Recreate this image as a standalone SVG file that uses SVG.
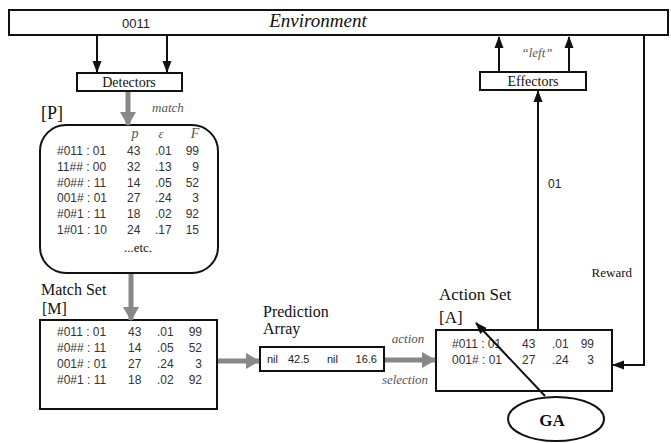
<svg xmlns="http://www.w3.org/2000/svg" width="671" height="443" viewBox="0 0 671 443">
<defs>
<style>
.box{fill:#fff;stroke:#111;stroke-width:2}
.ln{fill:none;stroke:#111;stroke-width:2}
.gl{fill:none;stroke:#888;stroke-width:5}
.serif{font-family:"Liberation Serif","Times New Roman",serif;fill:#111}
.sans{font-family:"Liberation Sans",Arial,sans-serif;fill:#222}
.it{font-family:"Liberation Serif","Times New Roman",serif;font-style:italic;fill:#555}
.tb{font-family:"Liberation Sans",Arial,sans-serif;font-size:12px;fill:#333}
</style>
<marker id="ah" markerUnits="userSpaceOnUse" markerWidth="12" markerHeight="12" viewBox="0 0 12 12" refX="11" refY="6" orient="auto">
<path d="M0,1.5 L12,6 L0,10.5 Z" fill="#111"/>
</marker>
<marker id="gh" markerUnits="userSpaceOnUse" markerWidth="14" markerHeight="18" viewBox="0 0 14 18" refX="13" refY="9" orient="auto">
<path d="M0,1 L14,9 L0,17 Z" fill="#888"/>
</marker>
</defs>
<rect width="671" height="443" fill="#fff"/>

<g id="environment">
<rect class="box" x="9" y="10" width="659" height="25" stroke-width="2.5"/>
<text class="sans" x="136" y="28" font-size="13" text-anchor="middle">0011</text>
<text class="serif" x="318" y="27" font-size="19" font-style="italic" text-anchor="middle" fill="#333">Environment</text>
</g>

<g id="detectors">
<rect class="box" x="77" y="73" width="105" height="18"/>
<text class="serif" x="129" y="87" font-size="14" text-anchor="middle" fill="#333">Detectors</text>
</g>

<g id="effectors">
<rect class="box" x="480" y="72" width="106" height="18"/>
<text class="serif" x="533" y="86" font-size="14" text-anchor="middle" fill="#333">Effectors</text>
</g>

<g id="population">
<text class="serif" x="41" y="119" font-size="18">[P]</text>
<rect class="box" x="40" y="125" width="178" height="148" rx="26" ry="26"/>
<text class="it" x="135" y="138" font-size="14" text-anchor="middle">p</text>
<text class="it" x="161" y="138" font-size="13" text-anchor="middle">ε</text>
<text class="it" x="195" y="138" font-size="14" text-anchor="middle">F</text>
<g class="tb">
<text x="57" y="155">#011 : 01</text><text x="127" y="155">43</text><text x="155" y="155">.01</text><text x="199" y="155" text-anchor="end">99</text>
<text x="57" y="171">11## : 00</text><text x="127" y="171">32</text><text x="155" y="171">.13</text><text x="199" y="171" text-anchor="end">9</text>
<text x="57" y="187">#0## : 11</text><text x="127" y="187">14</text><text x="155" y="187">.05</text><text x="199" y="187" text-anchor="end">52</text>
<text x="57" y="202">001# : 01</text><text x="127" y="202">27</text><text x="155" y="202">.24</text><text x="199" y="202" text-anchor="end">3</text>
<text x="57" y="218">#0#1 : 11</text><text x="127" y="218">18</text><text x="155" y="218">.02</text><text x="199" y="218" text-anchor="end">92</text>
<text x="57" y="234">1#01 : 10</text><text x="127" y="234">24</text><text x="155" y="234">.17</text><text x="199" y="234" text-anchor="end">15</text>
</g>
<text class="serif" x="138" y="252" font-size="13" text-anchor="middle" fill="#333">...etc.</text>
</g>

<g id="matchset">
<text class="serif" x="41" y="295" font-size="16" fill="#333">Match Set</text>
<text class="serif" x="42" y="314" font-size="16" fill="#333">[M]</text>
<rect class="box" x="40" y="320" width="177" height="89"/>
<g class="tb">
<text x="57" y="336">#011 : 01</text><text x="128" y="336">43</text><text x="157" y="336">.01</text><text x="202" y="336" text-anchor="end">99</text>
<text x="57" y="352">#0## : 11</text><text x="128" y="352">14</text><text x="157" y="352">.05</text><text x="202" y="352" text-anchor="end">52</text>
<text x="57" y="368">001# : 01</text><text x="128" y="368">27</text><text x="157" y="368">.24</text><text x="202" y="368" text-anchor="end">3</text>
<text x="57" y="384">#0#1 : 11</text><text x="128" y="384">18</text><text x="157" y="384">.02</text><text x="202" y="384" text-anchor="end">92</text>
</g>
</g>

<g id="prediction">
<text class="serif" x="263" y="317" font-size="16" fill="#333">Prediction</text>
<text class="serif" x="263" y="334" font-size="16" fill="#333">Array</text>
<rect class="box" x="260" y="347" width="124" height="24"/>
<g class="sans" font-size="11" fill="#333">
<text x="267" y="363">nil</text><text x="288" y="363">42.5</text><text x="327" y="363">nil</text><text x="377" y="363" text-anchor="end">16.6</text>
</g>
</g>

<g id="actionset">
<text class="serif" x="439" y="300" font-size="17" fill="#333">Action Set</text>
<text class="serif" x="439" y="323" font-size="17" fill="#333">[A]</text>
<rect class="box" x="436" y="330" width="176" height="61"/>
<g class="tb">
<text x="452" y="348">#011 : 01</text><text x="522" y="348">43</text><text x="552" y="348">.01</text><text x="594" y="348" text-anchor="end">99</text>
<text x="452" y="364">001# : 01</text><text x="522" y="364">27</text><text x="552" y="364">.24</text><text x="594" y="364" text-anchor="end">3</text>
</g>
</g>

<g id="ga">
<ellipse cx="556" cy="419" rx="48" ry="22" fill="#fff" stroke="#111" stroke-width="2"/>
<text class="serif" x="552" y="426" font-size="17" font-weight="bold" text-anchor="middle">GA</text>
</g>

<g id="connectors">
<line class="ln" x1="97" y1="36" x2="97" y2="72" marker-end="url(#ah)"/>
<line class="ln" x1="167" y1="36" x2="167" y2="72" marker-end="url(#ah)"/>
<line class="ln" x1="499" y1="72" x2="499" y2="37" marker-end="url(#ah)"/>
<line class="ln" x1="569" y1="72" x2="569" y2="37" marker-end="url(#ah)"/>
<line class="ln" x1="538" y1="330" x2="538" y2="91" marker-end="url(#ah)"/>
<polyline class="ln" points="644,36 644,365 613,365" marker-end="url(#ah)"/>
<line class="ln" x1="545" y1="396" x2="476" y2="323" marker-end="url(#ah)"/>
<line class="gl" x1="128" y1="92" x2="128" y2="125" marker-end="url(#gh)"/>
<line class="gl" x1="131" y1="274" x2="131" y2="320" marker-end="url(#gh)"/>
<line class="gl" x1="218" y1="361" x2="259" y2="361" marker-end="url(#gh)"/>
<line class="gl" x1="385" y1="360" x2="435" y2="360" marker-end="url(#gh)"/>
<text class="it" x="152" y="112" font-size="13">match</text>
<text class="it" x="537" y="57" font-size="13" text-anchor="middle">“left”</text>
<text class="sans" x="548" y="188" font-size="12">01</text>
<text class="serif" x="632" y="277" font-size="13" text-anchor="end" fill="#333">Reward</text>
<text class="it" x="408" y="343" font-size="13" text-anchor="middle">action</text>
<text class="it" x="405" y="384" font-size="13" text-anchor="middle">selection</text>
</g>
</svg>
